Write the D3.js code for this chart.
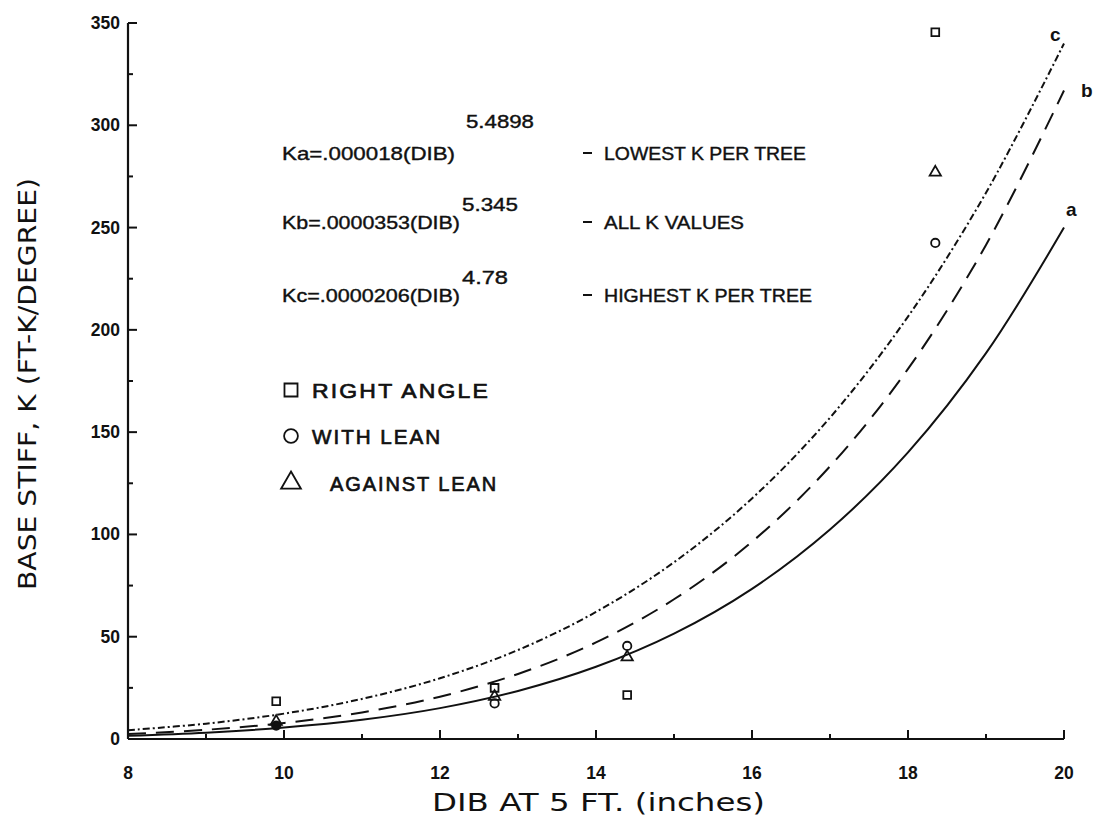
<!DOCTYPE html>
<html><head><meta charset="utf-8">
<script src="https://cdn.jsdelivr.net/npm/d3@7"></script>
<style>body{margin:0;background:#fff}svg{display:block}</style>
</head><body>
<svg id="c" width="1095" height="819"></svg>
<script>
// Curve values at integer DIB (inches)
const dib = [8,9,10,11,12,13,14,15,16,17,18,19,20];
const curveA = [1.6,3.1,5.6,9.4,15.1,23.5,35.3,51.5,73.4,102.4,140.1,188.6,250];
const curveB = [2.4,4.5,7.8,13.0,20.7,31.8,47.2,68.3,96.4,133.3,180.9,241.5,317];
const curveC = [4.3,7.5,12.4,19.6,29.7,43.5,62.1,86.4,117.6,157.1,206.5,267.0,340];
// Observed points
const rightAngleX = [9.9,12.7,14.4,18.35];
const rightAngleY = [18.5,25,21.5,345.5];
const withLeanX = [9.9,12.7,14.4,18.35];
const withLeanY = [6.5,17.4,45.5,242.5];
const againstLeanX = [9.9,12.7,14.4,18.35];
const againstLeanY = [8.5,20.7,40,277];
const xTicks = [8,10,12,14,16,18,20];
const yTicks = [0,50,100,150,200,250,300,350];
const equations = [
  {base:"Ka=.000018(DIB)", exp:"5.4898", note:"LOWEST K PER TREE"},
  {base:"Kb=.0000353(DIB)", exp:"5.345", note:"ALL K VALUES"},
  {base:"Kc=.0000206(DIB)", exp:"4.78", note:"HIGHEST K PER TREE"}
];
const legendItems = ["RIGHT ANGLE","WITH LEAN","AGAINST LEAN"];

const svg = d3.select("#c");
const x = d3.scaleLinear().domain([8,20]).range([128,1064]);
const y = d3.scaleLinear().domain([0,350]).range([739,23]);
const ink = "#111";

// x axis
const gx = svg.append("g").attr("transform","translate(0,739)");
gx.append("line").attr("x1",128).attr("x2",1064).attr("stroke",ink).attr("stroke-width",2.2);
gx.selectAll("line.t").data(d3.range(9,21,1)).join("line").attr("class","t")
  .attr("x1",d=>x(d)).attr("x2",d=>x(d)).attr("y1",0).attr("y2",d=>d%2===0?-9:-5)
  .attr("stroke",ink).attr("stroke-width",2);
gx.selectAll("text").data(xTicks).join("text")
  .attr("x",d=>x(d)).attr("y",40).attr("text-anchor","middle")
  .attr("font-family","Liberation Sans, Arial").attr("font-weight","bold").attr("font-size",17.5)
  .attr("fill",ink).text(d=>d);

// y axis
const gy = svg.append("g").attr("transform","translate(128,0)");
gy.append("line").attr("y1",23).attr("y2",739).attr("stroke",ink).attr("stroke-width",2.2);
gy.selectAll("line.t").data(d3.range(25,351,25)).join("line").attr("class","t")
  .attr("y1",d=>y(d)).attr("y2",d=>y(d)).attr("x1",0).attr("x2",d=>d%50===0?9:5)
  .attr("stroke",ink).attr("stroke-width",2);
gy.selectAll("text").data(yTicks).join("text")
  .attr("x",-8).attr("y",d=>y(d)+6).attr("text-anchor","end")
  .attr("font-family","Liberation Sans, Arial").attr("font-weight","bold").attr("font-size",17.5)
  .attr("fill",ink).text(d=>d);

// axis titles
svg.append("text").attr("x",432).attr("y",811).attr("textLength",333).attr("lengthAdjust","spacingAndGlyphs")
  .attr("font-family","DejaVu Sans").attr("font-size",24).attr("fill",ink).text("DIB AT 5 FT.  (inches)");
svg.append("text").attr("transform","translate(36,590) rotate(-90)").attr("textLength",412).attr("lengthAdjust","spacingAndGlyphs")
  .attr("font-family","DejaVu Sans").attr("font-size",24).attr("fill",ink).text("BASE STIFF, K (FT-K/DEGREE)");

// curves
const line = d3.line().x((d,i)=>x(dib[i])).y(d=>y(d)).curve(d3.curveCatmullRom);
svg.append("path").attr("d",line(curveA)).attr("fill","none").attr("stroke",ink).attr("stroke-width",2);
svg.append("path").attr("d",line(curveB)).attr("fill","none").attr("stroke",ink).attr("stroke-width",2)
  .attr("stroke-dasharray","18,10");
svg.append("path").attr("d",line(curveC)).attr("fill","none").attr("stroke",ink).attr("stroke-width",2)
  .attr("stroke-dasharray","7,3,2,3");
const lbl = [["c",20,340,-14,-2],["b",20,317,17,6],["a",20,250,2,-12]];
svg.selectAll("text.cl").data(lbl).join("text").attr("class","cl")
  .attr("x",d=>x(d[1])+d[3]).attr("y",d=>y(d[2])+d[4])
  .attr("font-family","Liberation Sans, Arial").attr("font-weight","bold").attr("font-size",19).attr("fill",ink).text(d=>d[0]);

// markers
const sym = (type,size)=>d3.symbol().type(type).size(size)();
function pts(xs,ys,type,size,fillFirst){
  svg.append("g").selectAll("path").data(xs).join("path")
    .attr("transform",(d,i)=>`translate(${x(d)},${y(ys[i])})`)
    .attr("d",sym(type,size)).attr("fill",(d,i)=>fillFirst&&i===0?ink:"none").attr("stroke",ink).attr("stroke-width",1.8);
}
pts(rightAngleX,rightAngleY,d3.symbolSquare,60,false);
pts(withLeanX,withLeanY,d3.symbolCircle,55,true);
pts(againstLeanX,againstLeanY,d3.symbolTriangle,55,false);

// equations
const eqY = [153,222,295];
const expY = [121,204,277];
const baseW = [173,178,178];
const expX = [466,462,462];
const expW = [68,56,46];
const noteW = [202,140,208];
equations.forEach((e,i)=>{
  svg.append("text").attr("x",282).attr("y",eqY[i]+7).attr("textLength",baseW[i]).attr("lengthAdjust","spacingAndGlyphs")
    .attr("font-family","Liberation Sans, Arial").attr("font-size",19).attr("fill",ink)
    .attr("stroke",ink).attr("stroke-width",0.4).text(e.base);
  svg.append("text").attr("x",expX[i]).attr("y",expY[i]+7).attr("textLength",expW[i]).attr("lengthAdjust","spacingAndGlyphs")
    .attr("font-family","Liberation Sans, Arial").attr("font-size",19).attr("fill",ink)
    .attr("stroke",ink).attr("stroke-width",0.4).text(e.exp);
  svg.append("line").attr("x1",583).attr("x2",592).attr("y1",eqY[i]).attr("y2",eqY[i]).attr("stroke",ink).attr("stroke-width",2);
  svg.append("text").attr("x",604).attr("y",eqY[i]+7).attr("textLength",noteW[i]).attr("lengthAdjust","spacingAndGlyphs")
    .attr("font-family","Liberation Sans, Arial").attr("font-size",18).attr("fill",ink)
    .attr("stroke",ink).attr("stroke-width",0.4).text(e.note);
});

// legend
const legY = [390,436,483];
const legTypes = [d3.symbolSquare,d3.symbolCircle,d3.symbolTriangle];
const legSize = [170,150,170];
const legW = [178,130,168];
const legX = [312,312,330];
legendItems.forEach((t,i)=>{
  svg.append("path").attr("transform",`translate(291,${legY[i]})`).attr("d",sym(legTypes[i],legSize[i]))
    .attr("fill","none").attr("stroke",ink).attr("stroke-width",1.8);
  svg.append("text").attr("x",legX[i]).attr("y",legY[i]+8).attr("textLength",legW[i]).attr("lengthAdjust","spacingAndGlyphs")
    .attr("font-family","Liberation Sans, Arial").attr("font-size",21).attr("fill",ink)
    .attr("stroke",ink).attr("stroke-width",0.7).attr("letter-spacing",2).text(t);
});
</script>
</body></html>
